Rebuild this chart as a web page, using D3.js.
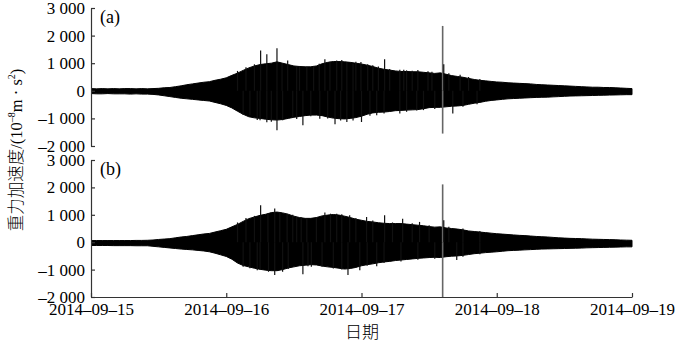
<!DOCTYPE html>
<html>
<head>
<meta charset="utf-8">
<script src="https://cdn.jsdelivr.net/npm/d3@7"></script>
<style>
    html, body { margin: 0; padding: 0; background: #fff; }
    svg { display: block; }
</style>
</head>
<body>
<div id="chart"></div>
<script>
'use strict';

// hourly envelope of the record, hour 0 = 2014-09-15 00:00 (UTC)
const startDay = Date.UTC(2014, 8, 15);
const hours = d3.range(0, 97);

const upperA = [80, 70, 80, 70, 80, 70, 80, 80, 70, 80, 70,
    80, 90, 110, 120, 150, 180, 220, 250, 280, 310, 330, 380, 420, 470, 560, 640, 740, 830, 900,
    950, 980, 1000, 1050, 1000, 950, 900, 880, 870, 870, 900, 980, 1030, 1060, 1060, 1050, 1030, 1000, 970, 930,
    880, 820, 780, 750, 720, 700, 700, 690, 690, 670, 650, 630, 650, 600, 550, 520, 490, 450, 410, 380,
    360, 340, 320, 310, 290, 280, 270, 260, 250, 230, 220, 210, 200, 190, 180, 170, 160, 150, 140, 130,
    130, 120, 120, 110, 100, 90, 80];
const lowerA = [-100, -110, -110, -100, -110, -110, -110, -120, -110, -120, -120,
    -130, -150, -180, -210, -240, -270, -290, -310, -330, -350, -370, -420, -470, -530, -620, -740, -850, -940, -980,
    -1000, -1030, -1050, -1060, -1040, -1000, -960, -930, -900, -880, -880, -900, -950, -990, -1010, -1020, -1000, -970, -920, -850,
    -800, -780, -770, -750, -720, -710, -700, -690, -680, -650, -610, -600, -600, -580, -560, -550, -530, -490, -450, -420,
    -380, -350, -330, -310, -290, -280, -270, -260, -250, -240, -235, -230, -220, -210, -200, -190, -185, -180, -175, -170,
    -165, -160, -155, -150, -145, -140, -140];

const upperB = [60, 60, 60, 60, 60, 60, 60, 60, 65, 65, 70,
    80, 100, 115, 130, 160, 190, 210, 240, 270, 300, 320, 370, 420, 470, 560, 650, 760, 860, 920,
    980, 1020, 1080, 1100, 1070, 1020, 950, 900, 870, 870, 900, 960, 990, 1010, 990, 950, 900, 840, 800, 760,
    740, 710, 690, 680, 680, 680, 660, 640, 620, 600, 570, 550, 560, 520, 500, 480, 450, 410, 390, 370,
    350, 330, 310, 295, 280, 265, 250, 240, 225, 210, 200, 190, 175, 160, 150, 140, 135, 130, 120, 110,
    105, 100, 95, 90, 80, 75, 70];
const lowerB = [-120, -120, -120, -120, -125, -125, -125, -125, -130, -130, -130,
    -150, -170, -190, -210, -230, -250, -265, -280, -300, -320, -350, -400, -460, -520, -620, -760, -850, -900, -950,
    -990, -1020, -1040, -1040, -1000, -940, -900, -860, -840, -820, -830, -870, -900, -920, -950, -980, -960, -920, -860, -820,
    -790, -750, -720, -700, -670, -650, -630, -610, -590, -575, -560, -550, -560, -530, -510, -500, -480, -450, -420, -400,
    -380, -365, -350, -330, -310, -300, -290, -280, -270, -260, -250, -245, -240, -235, -230, -225, -220, -215, -205, -200,
    -195, -190, -185, -180, -175, -170, -170];

// isolated peaks [hour, value]
const spikesA = [[30.1, 1460], [31.2, 1320], [33, 1540], [33.9, 1000], [34.9, 1100], [36.5, 890], [38.3, 860],
    [41.5, 1140], [42.4, 1050], [43.6, 1100], [45.4, 1040], [46.5, 980], [47.9, 1040], [49.1, 960], [52.1, 1140],
    [53, 790], [54.8, 760], [56, 740], [58, 750], [59.8, 710], [62.4, 2350], [62.6, 960],
    [26, 720], [27.5, 850], [29, 960], [37, 900], [39.5, 900], [40.5, 980], [44.5, 1120], [47, 1050], [50, 930],
    [51, 880], [55.5, 760], [57, 730], [60.5, 690], [63.5, 640], [65.5, 580], [67, 500], [69, 430],
    [28.2, -890], [30, -1070], [31.2, -1140], [33, -1430], [34, -1070], [35.8, -970], [37.6, -1250], [40.6, -1010],
    [43.3, -1210], [45.4, -1130], [48, -1130], [50.7, -890], [54.8, -820], [57.8, -710], [62.4, -1550], [64.2, -820],
    [27, -880], [29.5, -1060], [32, -1120], [36.5, -1020], [39, -920], [42, -1000], [44.3, -1080], [46.5, -1080],
    [49.5, -900], [52, -820], [56, -760], [59, -700], [61, -660], [66, -580], [68.5, -490]];
const spikesB = [[30.1, 1350], [31.4, 1050], [32.6, 1230], [33.5, 1100], [34.8, 1040], [36.5, 920], [38.3, 870],
    [41.5, 1080], [43.6, 1040], [45.9, 980], [48.9, 920], [52.1, 980], [55.3, 860], [58.3, 740], [62.4, 2110], [62.6, 800],
    [26, 720], [27.5, 880], [29, 960], [35.8, 1000], [37.3, 900], [40, 920], [42.5, 1040], [44.5, 1020], [47, 880],
    [50, 790], [53.5, 720], [57, 690], [60, 620], [63.5, 560], [66, 500], [69, 410],
    [28.2, -950], [30, -1000], [32.6, -1200], [34, -1080], [37.6, -1170], [39.1, -900], [45.6, -1200], [47.7, -1020],
    [50.7, -880], [62.4, -2000], [64.9, -650],
    [27, -900], [29.5, -1020], [31.5, -1080], [35, -980], [38.5, -880], [41, -900], [43, -960], [44.5, -1000],
    [49, -860], [52, -760], [55, -700], [58, -640], [61, -600], [66, -530], [69, -440]];
const quakeHour = 62.4;

const yTicks = [-2000, -1000, 0, 1000, 2000, 3000];
const xTicks = ['2014-09-15', '2014-09-16', '2014-09-17', '2014-09-18', '2014-09-19'];

const settings = { width: 700, height: 355 };
const left = 91, right = 632;
const serif = "'Liberation Serif', 'Times New Roman', serif";
const cjk = "'Noto Sans CJK SC', sans-serif";

const svg = d3.select('#chart')
    .append('svg')
    .attr('width', settings.width)
    .attr('height', settings.height);

const toDate = h => new Date(startDay + h * 3600e3);
const x = d3.scaleUtc()
    .domain([new Date(startDay), toDate(96)])
    .range([left, right]);

const fmtNum = v => (v < 0 ? '\u2013' : '') + d3.format(',')(Math.abs(v)).replace(/,/g, ' ');

function panel(upper, lower, spikes, top, bottom, tag, withX) {
    const y = d3.scaleLinear().domain([-2000, 3000]).range([bottom, top]);
    const id = 'clip' + tag;

    svg.append('clipPath').attr('id', id)
        .append('rect')
        .attr('x', left).attr('y', top)
        .attr('width', right - left + 1).attr('height', bottom - top);

    const g = svg.append('g').attr('clip-path', `url(#${id})`);

    const area = d3.area()
        .x(d => x(toDate(d)))
        .y0((d, i) => y(lower[i]))
        .y1((d, i) => y(upper[i]));

    g.append('path')
        .datum(hours)
        .attr('d', area)
        .attr('fill', '#000')
        .attr('stroke', '#000')
        .attr('stroke-width', 1);

    // spikes poking out of the envelope
    g.selectAll('.spike')
        .data(spikes)
        .enter()
        .append('line')
        .attr('class', 'spike')
        .attr('x1', d => x(toDate(d[0])))
        .attr('x2', d => x(toDate(d[0])))
        .attr('y1', y(0))
        .attr('y2', d => y(d[1]))
        .attr('stroke', d => d[0] === quakeHour ? '#666' : '#111')
        .attr('stroke-width', d => d[0] === quakeHour ? 1.6 : 1.2);

    const yAxis = svg.append('g')
        .attr('transform', `translate(${left},0)`)
        .call(d3.axisLeft(y).tickValues(yTicks).tickFormat(fmtNum)
            .tickSizeInner(-4).tickSizeOuter(0).tickPadding(6));
    yAxis.select('.domain').attr('stroke', '#333').attr('stroke-width', 1.2);
    yAxis.selectAll('.tick line').attr('stroke', '#333').attr('stroke-width', 1.2);
    yAxis.selectAll('.tick text').attr('font-size', 17).attr('fill', '#000')
        .attr('font-family', serif);

    svg.append('text')
        .attr('x', left + 9)
        .attr('y', top + 15)
        .attr('font-size', 18)
        .attr('font-family', serif)
        .attr('fill', '#000')
        .text(`(${tag})`);

    if (withX) {
        const xAxis = svg.append('g')
            .attr('transform', `translate(0,${bottom})`)
            .call(d3.axisBottom(x)
                .tickValues(xTicks.map(s => d3.utcParse('%Y-%m-%d')(s)))
                .tickFormat(d => d3.utcFormat('%Y-%m-%d')(d).replace(/-/g, '\u2013'))
                .tickSizeInner(-4).tickSizeOuter(0).tickPadding(6));
        xAxis.select('.domain').attr('stroke', '#333').attr('stroke-width', 1.2);
        xAxis.selectAll('.tick line').attr('stroke', '#333').attr('stroke-width', 1.2);
        xAxis.selectAll('.tick text').attr('font-size', 17).attr('fill', '#000')
            .attr('font-family', serif);
    }
}

panel(upperA, lowerA, spikesA, 8, 146, 'a', false);
panel(upperB, lowerB, spikesB, 160, 297, 'b', true);

// axis titles
svg.append('text')
    .attr('x', 362)
    .attr('y', 338)
    .attr('text-anchor', 'middle')
    .attr('font-size', 17)
    .attr('font-family', cjk)
    .attr('font-weight', 300)
    .attr('fill', '#000')
    .text('日期');

const yLabel = svg.append('text')
    .attr('transform', 'translate(22,150) rotate(-90)')
    .attr('text-anchor', 'middle')
    .attr('font-size', 16.5)
    .attr('font-family', serif)
    .attr('fill', '#000');
yLabel.append('tspan').attr('font-family', cjk).attr('font-weight', 300).text('重力加速度');
yLabel.append('tspan').text('/(10');
yLabel.append('tspan').attr('font-size', 10).attr('dy', -7).text('\u20138');
yLabel.append('tspan').attr('dy', 7).text('m · s');
yLabel.append('tspan').attr('font-size', 10).attr('dy', -7).text('2');
yLabel.append('tspan').attr('dy', 7).text(')');
</script>
</body>
</html>
